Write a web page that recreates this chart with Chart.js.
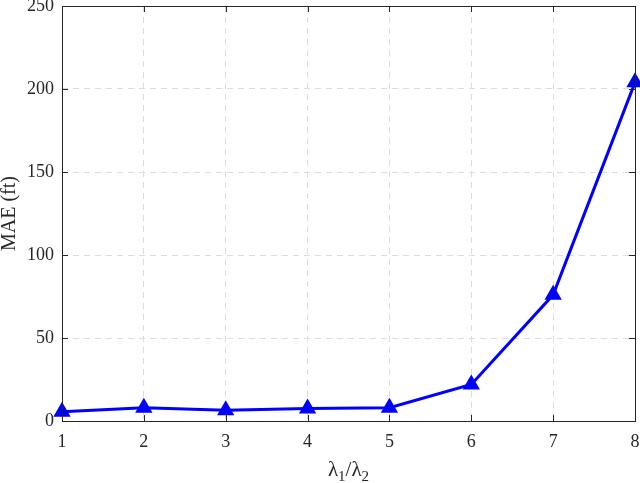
<!DOCTYPE html>
<html>
<head>
<meta charset="utf-8">
<script src="https://cdn.jsdelivr.net/npm/chart.js@4.4.0/dist/chart.umd.min.js"></script>
<style>
  html, body { margin: 0; padding: 0; background: #fff; }
  #wrap { width: 640px; height: 483px; }
</style>
</head>
<body>
<div id="wrap"><canvas id="chart" width="640" height="483"></canvas></div>
<script>
// ratio lambda1/lambda2 and the MAE
const ratios = [1, 2, 3, 4, 5, 6, 7, 8];
const maeFt = [5.5, 8, 6.5, 7.5, 8, 22, 76, 204];
const yTicks = [0, 50, 100, 150, 200, 250];

const serif = "'Liberation Serif', 'DejaVu Serif', serif";
const tickFont = { family: serif, size: 18, lineHeight: 1 };

// frame, inner tick marks and the axis titles (x title needs subscripts)
const framePlugin = {
    id: 'frame',
    afterDraw(chart) {
        const { ctx, chartArea: a, scales } = chart;
        ctx.save();
        ctx.strokeStyle = '#262626';
        ctx.lineWidth = 1;
        ctx.beginPath();
        ratios.forEach(v => {
            const x = Math.round(scales.x.getPixelForValue(v)) + 0.5;
            ctx.moveTo(x, a.bottom); ctx.lineTo(x, a.bottom - 6);
            ctx.moveTo(x, a.top); ctx.lineTo(x, a.top + 6);
        });
        yTicks.forEach(v => {
            const y = Math.round(scales.y.getPixelForValue(v)) + 0.5;
            ctx.moveTo(a.left, y); ctx.lineTo(a.left + 6, y);
            ctx.moveTo(a.right, y); ctx.lineTo(a.right - 6, y);
        });
        ctx.stroke();
        ctx.strokeRect(Math.round(a.left) + 0.5, Math.round(a.top) + 0.5,
            Math.round(a.right - a.left), Math.round(a.bottom - a.top));

        ctx.fillStyle = '#262626';
        // y title
        ctx.font = '20px ' + serif;
        ctx.textAlign = 'center';
        ctx.textBaseline = 'middle';
        ctx.save();
        ctx.translate(10, (a.top + a.bottom) / 2);
        ctx.rotate(-Math.PI / 2);
        ctx.fillText('MAE (ft)', 0, 0);
        ctx.restore();

        // x title: λ1/λ2 with subscripts
        const parts = [['λ', 21, 0], ['1', 15, 5], ['/', 21, 0], ['λ', 21, 0], ['2', 15, 5]];
        ctx.textAlign = 'left';
        ctx.textBaseline = 'alphabetic';
        let total = 0;
        parts.forEach(p => { ctx.font = p[1] + 'px ' + serif; total += ctx.measureText(p[0]).width; });
        let x = (a.left + a.right) / 2 - total / 2;
        const base = 476;
        parts.forEach(p => {
            ctx.font = p[1] + 'px ' + serif;
            ctx.fillText(p[0], x, base + p[2]);
            x += ctx.measureText(p[0]).width;
        });
        ctx.restore();
    }
};

new Chart(document.getElementById('chart'), {
    type: 'line',
    data: {
        datasets: [{
            data: ratios.map((r, i) => ({ x: r, y: maeFt[i] })),
            borderColor: '#0000ff',
            backgroundColor: '#0000ff',
            borderWidth: 3,
            pointStyle: 'triangle',
            pointRadius: 7,
            pointHoverRadius: 7,
            tension: 0,
            clip: false
        }]
    },
    options: {
        responsive: false,
        animation: false,
        events: [],
        layout: { autoPadding: false, padding: { left: 0, top: 6, right: 5, bottom: 0 } },
        plugins: { legend: { display: false }, tooltip: { enabled: false } },
        scales: {
            x: {
                type: 'linear',
                min: 1, max: 8,
                afterBuildTicks: s => { s.ticks = ratios.map(v => ({ value: v })); },
                afterFit: s => { s.height = 62; s.paddingLeft = 0; s.paddingRight = 0; },
                ticks: { font: tickFont, color: '#262626', padding: 12, maxRotation: 0 },
                grid: { color: '#dcdcdc', lineWidth: 1, drawTicks: false, tickLength: 0 },
                border: { display: false, dash: [6, 5] }
            },
            y: {
                min: 0, max: 250,
                afterBuildTicks: s => { s.ticks = yTicks.map(v => ({ value: v })); },
                afterFit: s => { s.width = 62; s.paddingTop = 0; s.paddingBottom = 0; },
                ticks: { font: tickFont, color: '#262626', padding: 8 },
                grid: { color: '#dcdcdc', lineWidth: 1, drawTicks: false, tickLength: 0 },
                border: { display: false, dash: [6, 5] }
            }
        }
    },
    plugins: [framePlugin]
});
</script>
</body>
</html>
